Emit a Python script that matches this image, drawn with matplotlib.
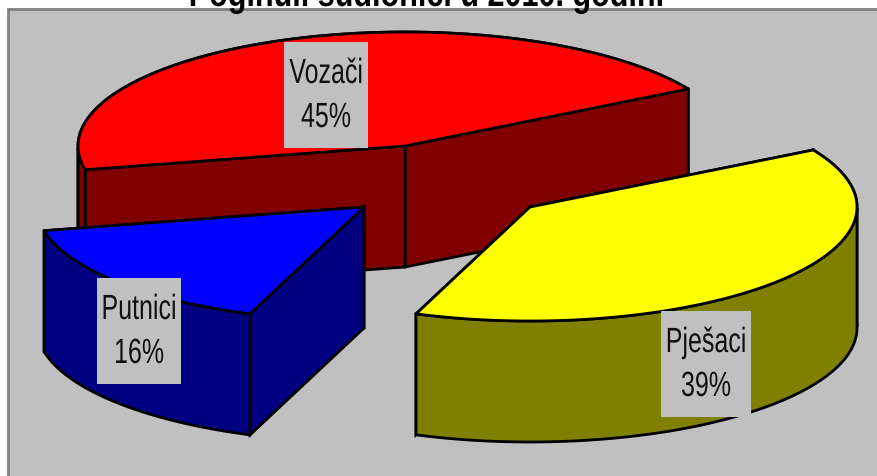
import numpy as np
import matplotlib
matplotlib.use('Agg')
from matplotlib import pyplot as plt
from matplotlib.patches import Polygon, Rectangle
from matplotlib.patheffects import AbstractPathEffect
from matplotlib.transforms import Affine2D

title = 'Poginuli sudionici u 2010. godini'
names = ['Vozači', 'Putnici', 'Pješaci']
shares = [45, 16, 39]

# styles, one per slice
top_colors = ['#ff0000', '#0000ff', '#ffff00']
side_colors = ['#800000', '#000080', '#808000']
# where each slice was pulled to (explosion) and where its label sits
vertices = [(405, 146), (364, 207), (530, 207)]
label_boxes = [(284, 42, 84, 106), (97, 278, 84, 106), (661, 311, 90, 106)]

start_angle = 30.0   # degrees, right end of the first slice, going counter clockwise
rx, ry = 327, 114
depth = 121


class TallText(AbstractPathEffect):
    # the original labels are squeezed sideways, so stretch the glyphs upward
    def __init__(self, factor):
        super().__init__()
        self.factor = factor

    def draw_path(self, renderer, gc, tpath, affine, rgbFace=None):
        renderer.draw_path(gc, tpath, Affine2D().scale(1, self.factor) + affine, rgbFace)


def rim(vertex, a0, a1):
    # points of the pie rim between two angles, seen from above
    t = np.radians(np.linspace(a0, a1, 120))
    return np.column_stack([vertex[0] + rx * np.cos(t), vertex[1] - ry * np.sin(t)])


def draw_side(ax, pts, color, z):
    low = pts[::-1] + [0, depth]
    ax.add_patch(Polygon(np.vstack([pts, low]), closed=True, fc=color, ec='black', lw=2, zorder=z))


fig = plt.figure(figsize=(8.77, 4.76), dpi=100)
ax = fig.add_axes([0, 0, 1, 1])
ax.set_xlim(0, 877)
ax.set_ylim(476, 0)
ax.axis('off')

ax.add_patch(Rectangle((8, 9), 880, 480, fc='#c0c0c0', ec='#808080', lw=2, zorder=0))
ax.text(426, 6, title, ha='center', va='baseline', fontsize=22, fontweight='bold',
        family='Liberation Sans', color='black', zorder=1, path_effects=[TallText(1.25)])

a = start_angle
z = 2
for share, v, top, side in zip(shares, vertices, top_colors, side_colors):
    a1 = a + share * 3.6
    arc = rim(v, a, a1)

    # split the rim so the back is painted before the cut faces and the front after
    t = np.linspace(a, a1, 120) % 360
    back = arc[t <= 180]
    front = arc[t > 180]
    if len(back) > 1:
        draw_side(ax, back, side, z)
        z += 1

    # cut faces, far one first
    ends = sorted([arc[0], arc[-1]], key=lambda p: p[1])
    for e in ends:
        draw_side(ax, np.array([v, e]), side, z)
        z += 1

    if len(front) > 1:
        draw_side(ax, front, side, z)
        z += 1

    ax.add_patch(Polygon(np.vstack([[v], arc]), closed=True, fc=top, ec='black', lw=2,
                         joinstyle='round', zorder=z))
    z += 1
    a = a1

for name, share, box in zip(names, shares, label_boxes):
    x, y, w, h = box
    ax.add_patch(Rectangle((x, y), w, h, fc='#c0c0c0', ec='none', zorder=z))
    ax.text(x + w / 2, y + 41, name, ha='center', va='baseline', fontsize=18,
            family='Liberation Sans', color='#111111', zorder=z + 1, path_effects=[TallText(1.4)])
    ax.text(x + w / 2, y + 85, f'{share}%', ha='center', va='baseline', fontsize=18,
            family='Liberation Sans', color='#111111', zorder=z + 1, path_effects=[TallText(1.4)])

fig.savefig('out.png', dpi=100)
plt.close()
